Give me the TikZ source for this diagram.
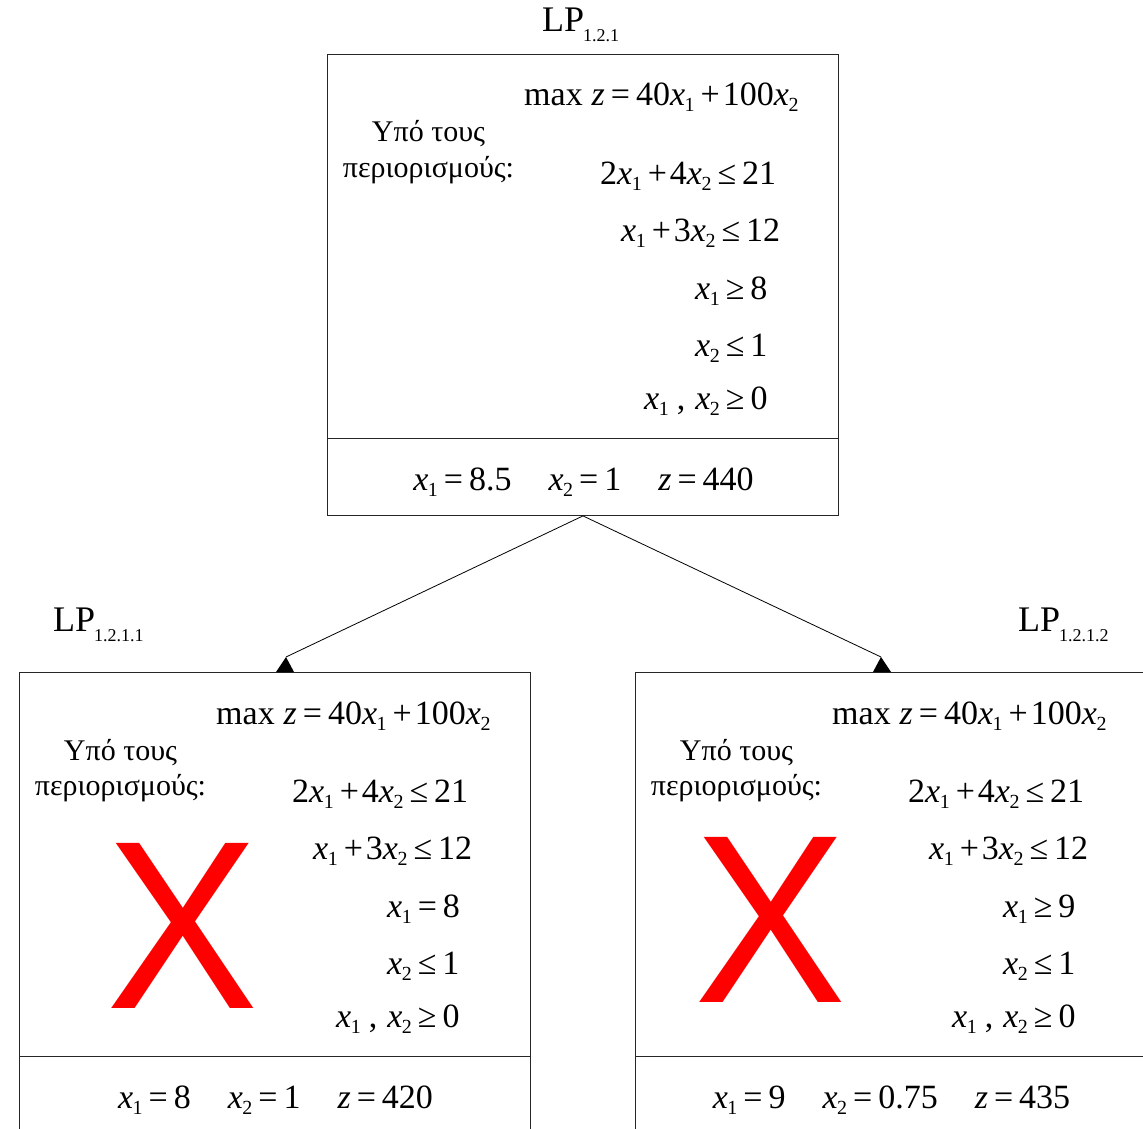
\documentclass[tikz,border=0pt]{standalone}
\usepackage{fontspec}
\usepackage{graphicx}
\setmainfont{Liberation Serif}
\newfontfamily\xfont{Liberation Sans}
\newcommand\subf{\fontsize{20}{20}\selectfont}
\newcommand\labsubf{\fontsize{18}{18}\selectfont}
\newcommand\vx[1]{\textit{x}\kern-0.5pt\raisebox{-6pt}{\subf #1}}
\newcommand\vz{\textit{z}}
\newcommand\rel[1]{\hspace{6pt}#1\hspace{6pt}}
\newcommand\pl{\hspace{6pt}+\hspace{3pt}}
\newcommand\lplab[1]{LP\kern-1pt\raisebox{-10pt}{\labsubf #1}}
\tikzset{
  eq/.style={anchor=base west, inner sep=0pt, font=\fontsize{34}{34}\selectfont},
  eqc/.style={anchor=base, inner sep=0pt, font=\fontsize{34}{34}\selectfont},
  gr/.style={anchor=base, inner sep=0pt, font=\fontsize{30}{30}\selectfont},
  lab/.style={anchor=base west, inner sep=0pt, font=\fontsize{36}{36}\selectfont},
  lpbox/.style={draw=black!85, line width=0.9pt, anchor=north west, inner sep=0pt,
    minimum width=511pt, minimum height=461pt},
  conn/.style={draw=black, line width=0.8pt},
  bigx/.style={text=red, inner sep=0pt, font=\xfont\fontsize{240}{240}\selectfont}
}
% #1 prefix, #2 x, #3 y, #4 third constraint, #5 bottom line
\newcommand\lpnode[5]{%
\begin{scope}[shift={(#2,#3)}]
  \node[lpbox] (#1box) at (0,0) {};
  \coordinate (#1dl) at (0,384);
  \draw[draw=black!85, line width=0.9pt] (#1dl) -- (#1dl -| #1box.east);
  \node[eq] (#1max) at (197,52) {max\hspace{9pt}\vz\rel{=}40\vx1\pl100\vx2};
  \node[gr] (#1g1) at (101.5,88) {Υπό τους};
  \node[gr] (#1g2) at (101.5,123) {περιορισμούς:};
  \node[eq] (#1c1) at (273,130) {2\vx1\pl4\vx2\rel{≤}21};
  \node[eq] (#1c2) at (294,187) {\vx1\pl3\vx2\rel{≤}12};
  \node[eq] (#1c3) at (368,245) {#4};
  \node[eq] (#1c4) at (368,302) {\vx2\rel{≤}1};
  \node[eq] (#1c5) at (317,355) {\vx1\hspace{8pt},\hspace{10pt}\vx2\rel{≥}0};
  \node[eqc] (#1res) at (256.5,436) {#5};
\end{scope}}
\newcommand\gap{\hspace{37pt}}
\begin{document}
\begin{tikzpicture}[x=1pt,y=-1pt]
\useasboundingbox (0,0) rectangle (1143,1129);
\fill[white] (0,0) rectangle (1143,1129);

\node[lab] (labT) at (542,32) {\lplab{1.2.1}};
\node[lab] (labL) at (53,631) {\lplab{1.2.1.1}};
\node[lab] (labR) at (1018,631) {\lplab{1.2.1.2}};

\lpnode{T}{327}{54}{\vx1\rel{≥}8}{\vx1\rel{=}8.5\gap\vx2\rel{=}1\gap\vz\rel{=}440}
\lpnode{L}{19}{672}{\vx1\rel{=}8}{\vx1\rel{=}8\gap\vx2\rel{=}1\gap\vz\rel{=}420}
\lpnode{R}{635}{672}{\vx1\rel{≥}9}{\vx1\rel{=}9\gap\vx2\rel{=}0.75\gap\vz\rel{=}435}

\node[bigx] (xL) at (183,926) {\scalebox{0.95}[1]{X}};
\node[bigx] (xR) at (771,920) {\scalebox{0.95}[1]{X}};

\coordinate (tipL) at (286,657);
\coordinate (tipR) at (881,657);
\coordinate (bL) at (tipL |- Lbox.north);
\coordinate (bR) at (tipR |- Rbox.north);
\draw[conn] (Tbox.south) -- (tipL);
\draw[conn] (Tbox.south) -- (tipR);
\fill (tipL) -- ([xshift=-10pt]bL) -- ([xshift=8pt]bL) -- cycle;
\fill (tipR) -- ([xshift=-8pt]bR) -- ([xshift=10pt]bR) -- cycle;
\end{tikzpicture}
\end{document}
